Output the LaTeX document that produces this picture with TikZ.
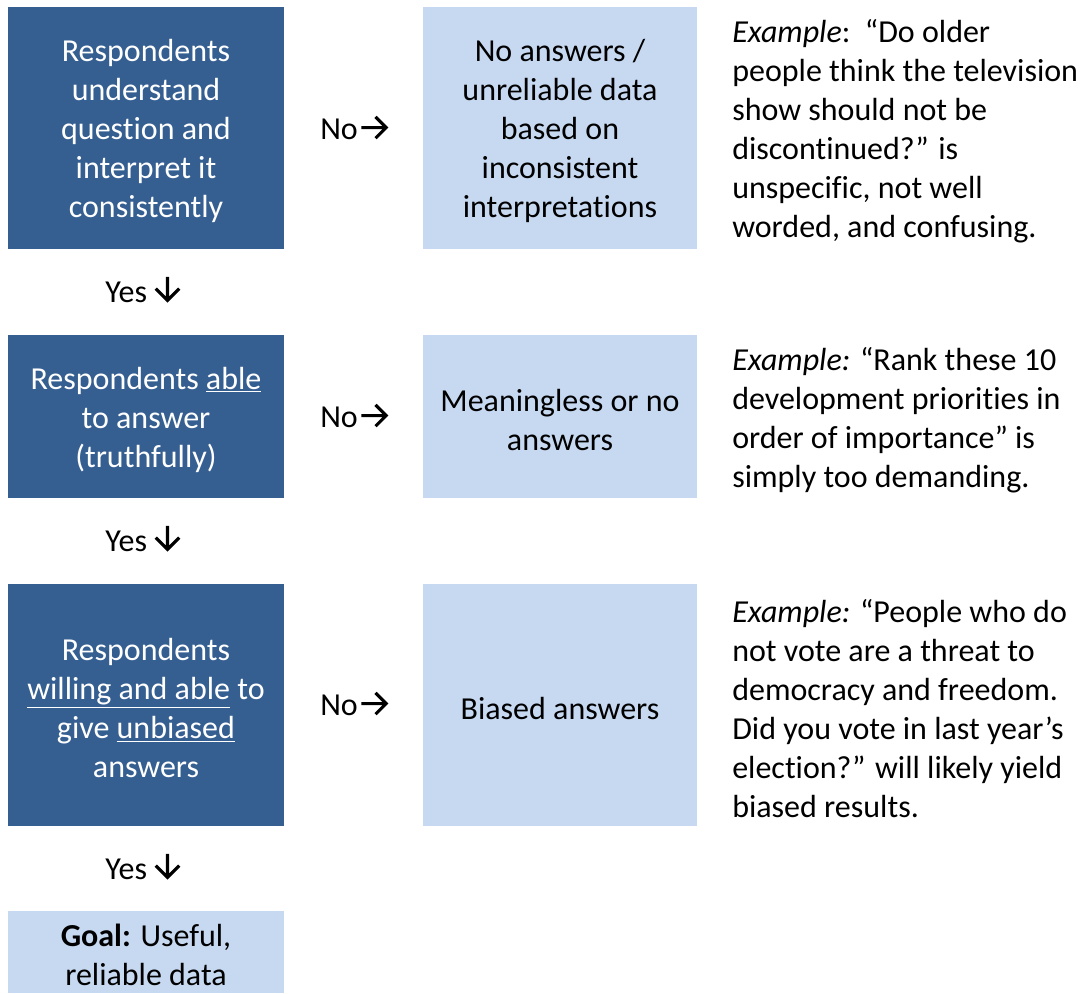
\documentclass[tikz,border=0pt]{standalone}
\usepackage{fontspec}
\setmainfont[Ligatures=NoCommon]{Carlito}
\definecolor{darkblue}{RGB}{54,95,145}
\definecolor{lightblue}{RGB}{198,217,241}
% chevron-headed arrows used in the branch labels
\newcommand{\rarr}{\tikz[baseline=-8.6pt]\draw[line width=2.3pt,line join=miter]
  (0pt,0pt) -- (18.6pt,0pt) (10.6pt,8pt) -- (18.6pt,0pt) -- (10.6pt,-8pt);}
\newcommand{\darr}{\tikz[baseline=0pt]\draw[line width=2.3pt,line join=miter]
  (0pt,18.8pt) -- (0pt,1.2pt) (-8.8pt,10pt) -- (0pt,1.2pt) -- (8.8pt,10pt);}
\begin{document}
\begin{tikzpicture}[x=0.75pt,y=-0.75pt,
  every node/.style={font=\fontsize{24}{29.25}\selectfont},
  stepbox/.style={fill=darkblue,minimum width=207pt,inner sep=0pt},
  outcome/.style={fill=lightblue,minimum width=205.5pt,inner sep=0pt},
  boxtext/.style={inner sep=0pt,align=center,yshift=-2.5pt},
  example/.style={anchor=west,align=left,inner sep=0pt},
  label/.style={inner sep=0pt,anchor=base west}]
\useasboundingbox (0,0) rectangle (1082,993);

% decision steps
\node[stepbox,minimum height=181.5pt] (s1) at (146,128) {};
\node[stepbox,minimum height=122.25pt] (s2) at (146,416.5) {};
\node[stepbox,minimum height=181.5pt] (s3) at (146,705) {};
\node[outcome,minimum width=207pt,minimum height=61.5pt] (goal) at (146,952) {};

\node[boxtext,text=white] (s1t) at (s1) {Respondents\\understand\\question and\\interpret it\\consistently};
\node[boxtext,text=white] (s2t) at (s2) {Respondents \underline{able}\\to answer\\(truthfully)};
\node[boxtext,text=white] (s3t) at (s3) {Respondents\\\underline{willing and able} to\\give \underline{unbiased}\\answers};
\node[boxtext] (goalt) at (goal) {\textbf{Goal:} Useful,\\reliable data};

% outcomes when the answer is no
\node[outcome,minimum height=181.5pt] (o1) at (560,128) {};
\node[outcome,minimum height=122.25pt] (o2) at (560,416.5) {};
\node[outcome,minimum height=181.5pt] (o3) at (560,705) {};

\node[boxtext] (o1t) at (o1) {No answers /\\unreliable data\\based on\\inconsistent\\interpretations};
\node[boxtext] (o2t) at (o2) {Meaningless or no\\answers};
\node[boxtext] (o3t) at (o3) {Biased answers};

% branch labels
\node[label] (n1) at (320,139) {No\hspace{1.5pt}\rarr};
\node[label] (n2) at (320,427) {No\hspace{1.5pt}\rarr};
\node[label] (n3) at (320,715) {No\hspace{1.5pt}\rarr};
\node[label] (y1) at (105,302) {Yes \darr};
\node[label] (y2) at (105,551) {Yes \darr};
\node[label] (y3) at (105,879) {Yes \darr};

% examples
\node[example] (e1) at (732,131.5)
  {\textit{Example}:\ \ “Do older\\people think the television\\show should not be\\discontinued?” is\\unspecific, not well\\worded, and confusing.};
\node[example] (e2) at (732,420)
  {\textit{Example:} “Rank these 10\\development priorities in\\order of importance” is\\simply too demanding.};
\node[example] (e3) at (732,708.5)
  {\textit{Example:} “People who do\\not vote are a threat to\\democracy and freedom.\\Did you vote in last year’s\\election?” will likely yield\\biased results.};
\end{tikzpicture}
\end{document}
